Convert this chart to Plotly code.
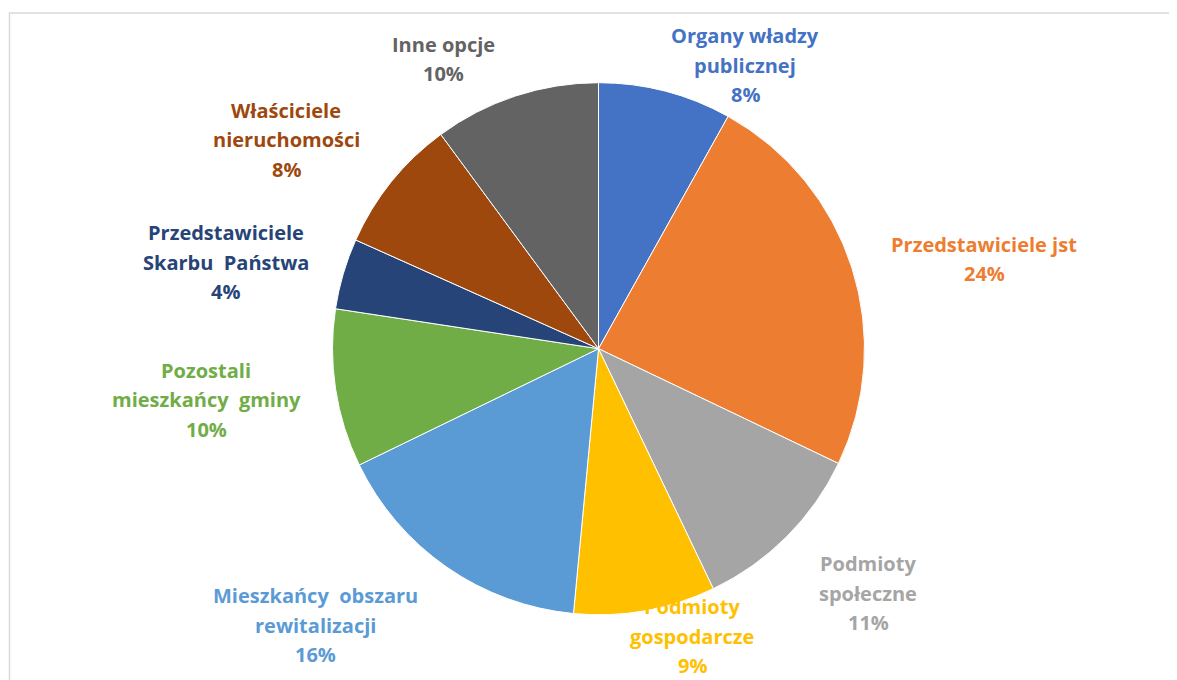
import plotly.graph_objects as go

# Data
categories = [
    "Organy władzy publicznej",
    "Przedstawiciele jst",
    "Podmioty społeczne",
    "Podmioty gospodarcze",
    "Mieszkańcy obszaru rewitalizacji",
    "Pozostali mieszkańcy gminy",
    "Przedstawiciele Skarbu Państwa",
    "Właściciele nieruchomości",
    "Inne opcje",
]
values = [8.1, 24.0, 10.8, 8.6, 16.3, 9.6, 4.3, 8.2, 10.1]
label_lines = [
    ["Organy władzy", "publicznej"],
    ["Przedstawiciele jst"],
    ["Podmioty", "społeczne"],
    ["Podmioty", "gospodarcze"],
    ["Mieszkańcy\u00a0 obszaru", "rewitalizacji"],
    ["Pozostali", "mieszkańcy\u00a0 gminy"],
    ["Przedstawiciele", "Skarbu\u00a0 Państwa"],
    ["Właściciele", "nieruchomości"],
    ["Inne opcje"],
]
colors = ["#4472C4", "#ED7D31", "#A5A5A5", "#FFC000", "#5B9BD5",
          "#70AD47", "#264478", "#9E480E", "#636363"]

# Layout (label block centres in page pixels from top-left)
W, H = 1177, 680
OFF = 8  # page margin of the html body
label_pos = [(745, 65), (984, 259), (868, 593), (692, 636), (316, 625),
             (206, 400), (226, 262), (286, 140), (444, 59)]
line_h = 29.5
cx, cy, r = 598.5 - OFF, 348.7 - OFF, 266

fig = go.Figure(go.Pie(
    labels=categories,
    values=values,
    sort=False,
    direction="clockwise",
    rotation=0,
    marker=dict(colors=colors, line=dict(color="white", width=1)),
    textinfo="none",
    hoverinfo="skip",
    showlegend=False,
    domain=dict(x=[(cx - r) / W, (cx + r) / W],
                y=[(H - cy - r) / H, (H - cy + r) / H]),
))

total = sum(values)
annotations = []
for lines, v, col, (lx, ly) in zip(label_lines, values, colors, label_pos):
    all_lines = lines + [f"{round(v / total * 100)}%"]
    n = len(all_lines)
    for i, t in enumerate(all_lines):
        y = ly - OFF + (i - (n - 1) / 2) * line_h
        annotations.append(dict(
            x=(lx - OFF) / W, y=1 - y / H, xref="paper", yref="paper",
            text=t, showarrow=False, xanchor="center", yanchor="middle",
            font=dict(family="Open Sans", size=20, color=col, weight="bold"),
        ))

fig.update_layout(
    width=W, height=H,
    margin=dict(l=0, r=0, t=0, b=0),
    paper_bgcolor="white",
    plot_bgcolor="white",
    annotations=annotations,
    shapes=[dict(type="rect", xref="paper", yref="paper",
                 x0=(9.5 - OFF) / W, x1=1.02, y0=-0.02, y1=1 - (13 - OFF) / H,
                 line=dict(color="#D9D9D9", width=1.5), layer="below")],
)

fig.write_html("out.html")
